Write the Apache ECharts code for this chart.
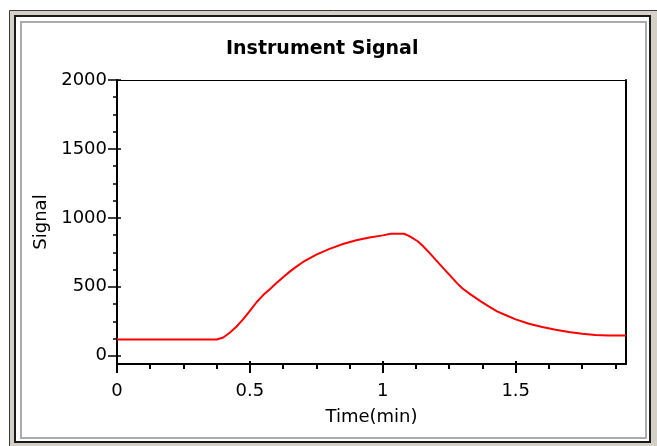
<!DOCTYPE html>
<html>
<head>
<meta charset="utf-8">
<script src="https://cdn.jsdelivr.net/npm/echarts@6/dist/echarts.min.js"></script>
<style>
html,body{margin:0;padding:0;background:#fff;}
#chart{width:657px;height:446px;}
</style>
</head>
<body>
<div id="chart"></div>
<script>
// ---- data ----
var TIME_MIN = [0, 0.10, 0.20, 0.30, 0.375, 0.40, 0.425, 0.45, 0.475, 0.50, 0.525, 0.55, 0.575, 0.60, 0.625, 0.65, 0.675, 0.70, 0.75, 0.80, 0.85, 0.90, 0.95, 1.00, 1.03, 1.08, 1.10, 1.13, 1.15, 1.18, 1.20, 1.23, 1.25, 1.28, 1.30, 1.33, 1.37, 1.40, 1.43, 1.47, 1.50, 1.55, 1.60, 1.65, 1.70, 1.75, 1.80, 1.85, 1.915];
var SIGNAL   = [118, 118, 118, 118, 118, 132, 168, 212, 265, 325, 388, 440, 483, 527, 570, 610, 646, 680, 733, 775, 810, 838, 857, 873, 884, 885, 868, 832, 798, 737, 694, 630, 588, 525, 488, 445, 392, 356, 322, 288, 264, 232, 208, 188, 172, 160, 151, 147, 146];

var X_MIN = 0, X_MAX = 1.915;
var Y_MIN = -60, Y_MAX = 2000;
var X_TICKS = [0, 0.5, 1, 1.5];
var X_MINOR_TICKS = [0.125, 0.25, 0.375, 0.625, 0.75, 0.875, 1.125, 1.25, 1.375, 1.625, 1.75, 1.875];
var Y_TICKS = [0, 500, 1000, 1500, 2000];
var Y_MINOR_TICKS = [125, 250, 375, 625, 750, 875, 1125, 1250, 1375, 1625, 1750, 1875];

var TITLE = 'Instrument Signal';
var X_NAME = 'Time(min)';
var Y_NAME = 'Signal';

var FONT = 'DejaVu Sans';
var chart = echarts.init(document.getElementById('chart'), null, {renderer: 'canvas'});

var seriesData = TIME_MIN.map(function (t, i) { return [t, SIGNAL[i]]; });

function baseX(extra) {
  var o = {type: 'value', min: X_MIN, max: X_MAX, splitLine: {show: false},
    axisLabel: {show: false}, axisTick: {show: false}, axisLine: {show: false, onZero: false}};
  for (var k in extra) o[k] = extra[k];
  return o;
}
function baseY(extra) {
  var o = {type: 'value', min: Y_MIN, max: Y_MAX, splitLine: {show: false},
    axisLabel: {show: false}, axisTick: {show: false}, axisLine: {show: false, onZero: false}};
  for (var k in extra) o[k] = extra[k];
  return o;
}

var option = {
  animation: false,
  backgroundColor: '#ffffff',
  graphic: [
    {type: 'rect', z: -10, silent: true, shape: {x: 9.5, y: 10.5, width: 650, height: 440},
     style: {fill: '#d4d0c8', stroke: '#3a3a3a', lineWidth: 1}},
    {type: 'rect', z: -9, silent: true, shape: {x: 15, y: 16, width: 635, height: 426},
     style: {fill: '#ffffff', stroke: '#1a1a1a', lineWidth: 2}},
    {type: 'rect', z: -8, silent: true, shape: {x: 21, y: 22, width: 625, height: 416},
     style: {fill: 'none', stroke: '#ababab', lineWidth: 2}}
  ],
  title: {
    text: TITLE, left: 221, top: 35,
    textStyle: {fontFamily: FONT, fontWeight: 'bold', fontSize: 19, color: '#000'}
  },
  grid: {left: 117, top: 80, right: 31, bottom: 82, show: false},
  xAxis: [
    baseX({position: 'bottom',
      axisLine: {show: true, onZero: false, lineStyle: {color: '#000', width: 2}},
      axisTick: {show: true, customValues: X_TICKS, length: 9, lineStyle: {color: '#000', width: 2}},
      axisLabel: {show: true, customValues: X_TICKS, margin: 18, fontSize: 18, fontFamily: FONT, color: '#000',
        formatter: function (v) { return String(v); }},
      name: X_NAME, nameLocation: 'middle', nameGap: 44,
      nameTextStyle: {fontSize: 18, fontFamily: FONT, color: '#000'}}),
    baseX({position: 'bottom',
      axisTick: {show: true, customValues: X_MINOR_TICKS, length: 5, lineStyle: {color: '#000', width: 2}}}),
    baseX({position: 'bottom',
      axisTick: {show: true, inside: true, customValues: X_TICKS, length: 3, lineStyle: {color: '#000', width: 2}}}),
    baseX({position: 'top',
      axisLine: {show: true, onZero: false, lineStyle: {color: '#000', width: 1}}})
  ],
  yAxis: [
    baseY({position: 'left',
      axisLine: {show: true, onZero: false, lineStyle: {color: '#000', width: 2}},
      axisTick: {show: true, customValues: Y_TICKS, length: 9, lineStyle: {color: '#000', width: 1.5}},
      axisLabel: {show: true, customValues: Y_TICKS, margin: 10, fontSize: 18, fontFamily: FONT, color: '#000',
        formatter: function (v) { return String(v); }},
      name: Y_NAME, nameLocation: 'middle', nameGap: 67, nameRotate: 90,
      nameTextStyle: {fontSize: 18, fontFamily: FONT, color: '#000'}}),
    baseY({position: 'left',
      axisTick: {show: true, customValues: Y_MINOR_TICKS, length: 4, lineStyle: {color: '#000', width: 1.5}}}),
    baseY({position: 'left',
      axisTick: {show: true, inside: true, customValues: Y_TICKS, length: 4, lineStyle: {color: '#000', width: 1.5}}}),
    baseY({position: 'right',
      axisLine: {show: true, onZero: false, lineStyle: {color: '#000', width: 2}}})
  ],
  series: [{
    type: 'line',
    xAxisIndex: 0, yAxisIndex: 0,
    data: seriesData,
    showSymbol: false,
    smooth: false,
    lineStyle: {color: '#ff0000', width: 2},
    z: 5
  }]
};
chart.setOption(option);
</script>
</body>
</html>
